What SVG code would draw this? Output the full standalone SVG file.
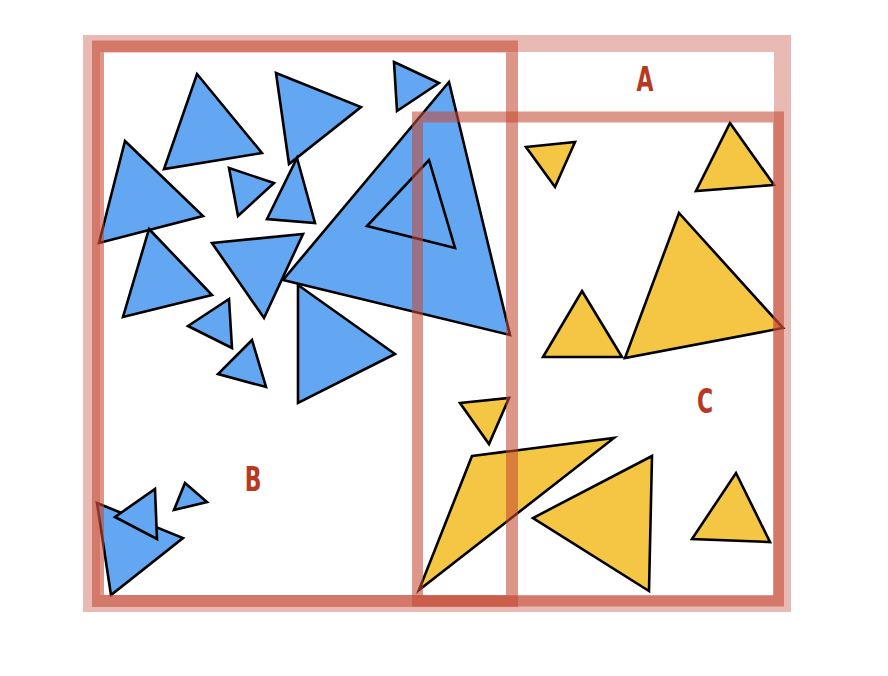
<svg xmlns="http://www.w3.org/2000/svg" width="888" height="676" viewBox="0 0 888 676">
<style>
.b{fill:#63a6f2;stroke:#000;stroke-width:2.6;stroke-linejoin:miter}
.y{fill:#f5c644;stroke:#000;stroke-width:2.6;stroke-linejoin:miter}
.r{fill:none;stroke:#c44a36}
.lbl{font-family:"DejaVu Sans Condensed","DejaVu Sans",sans-serif;font-weight:bold;font-stretch:condensed;font-size:33px;fill:#b8391f;text-anchor:middle}
</style>
<rect width="888" height="676" fill="#fff"/>
<g id="blue">
<polygon class="b" points="197,74 262,153 164,169"/>
<polygon class="b" points="276,73 361,107 289,164"/>
<polygon class="b" points="125,141 203,216 99,243"/>
<polygon class="b" points="229,168 274,183 238,216"/>
<polygon class="b" points="297,158 315,223 267,219"/>
<polygon class="b" points="394,62 439,83 397,111"/>
<polygon class="b" points="449,82 510,335 283,280"/>
<polygon class="b" points="429,160 455,248 367,226"/>
<polygon class="b" points="149,229 212,295 123,317"/>
<polygon class="b" points="212,243 303,234 264,318"/>
<polygon class="b" points="229,299 232,348 188,326"/>
<polygon class="b" points="252,340 266,387 218,374"/>
<polygon class="b" points="298,285 395,354 298,403"/>
<polygon class="b" points="97,503 183,538 111,595"/>
<polygon class="b" points="155,489 157,539 115,517"/>
<polygon class="b" points="185,483 207,502 174,510"/>
</g>
<g id="yellow">
<polygon class="y" points="526,147 575,142 555,187"/>
<polygon class="y" points="730,123 774,185 696,191"/>
<polygon class="y" points="582,291 622,357 543,357"/>
<polygon class="y" points="679,213 783,328 625,358"/>
<polygon class="y" points="460,403 509,398 489,444"/>
<polygon class="y" points="472,456 614,438 419,590"/>
<polygon class="y" points="652,456 649,591 533,518"/>
<polygon class="y" points="736,473 770,542 692,539"/>
</g>
<g id="A">
<rect class="r" x="91.5" y="43.5" width="691" height="560" stroke-width="17" stroke-opacity="0.38"/>
<text class="lbl" transform="translate(645,91) scale(0.74,1)">A</text>
</g>
<g id="B">
<rect class="r" x="98" y="46.5" width="414" height="554.5" stroke-width="12" stroke-opacity="0.58"/>
<text class="lbl" transform="translate(253,491) scale(0.74,1)">B</text>
</g>
<g id="C">
<rect class="r" x="417.5" y="117" width="361" height="484" stroke-width="11" stroke-opacity="0.58"/>
<text class="lbl" transform="translate(705,413) scale(0.74,1)">C</text>
</g>
</svg>
